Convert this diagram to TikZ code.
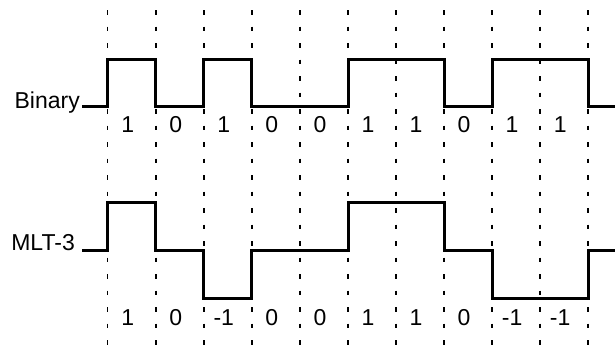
\documentclass[tikz,border=0pt]{standalone}
\usepackage{fontspec}
\setmainfont{Liberation Sans}
\usetikzlibrary{positioning, calc}

\begin{document}
\begin{tikzpicture}[
        x=1pt, y=-1pt,
        gridline/.style={draw=black, line width=1.5pt, dash pattern=on 4.5pt off 12pt, dash phase=-10pt},
        wave/.style={draw=black, line width=3pt, line join=miter},
        bit/.style={font=\fontsize{23}{23}\selectfont, inner sep=0pt, anchor=center},
        sig/.style={font=\fontsize{23}{23}\selectfont, inner sep=0pt, anchor=base east}
    ]
        \useasboundingbox (0,0) rectangle (615,348);

        % bit boundaries
        \foreach \i in {0,...,10}
            \draw[gridline] (107.7+48.05*\i, 0) -- (107.7+48.05*\i, 348);

        % Binary (NRZ)
        \node[sig] (binary) at (80,108) {Binary};
        \draw[wave] (82,106.7) -- (107.7,106.7) |- (155.8,59.3) |- (203.8,106.7)
            |- (251.9,59.3) |- (299.9,106.7) -- (348,106.7) |- (444.1,59.3)
            |- (492.1,106.7) |- (588.2,59.3) |- (615,106.7);
        \foreach \b [count=\i from 0] in {1,0,1,0,0,1,1,0,1,1}
            \node[bit] (bin\i) at (127.7+48.05*\i, 125) {\b};

        % MLT-3
        \node[sig] (mlt) at (75,250) {MLT-3};
        \draw[wave] (82,250.7) -- (107.7,250.7) |- (155.8,202.7) |- (203.8,250.7)
            |- (251.9,298.3) |- (348,250.7) |- (444.1,202.7) |- (492.1,250.7)
            |- (588.2,298.3) |- (615,250.7);
        \foreach \b [count=\i from 0] in {1,0,-1,0,0,1,1,0,-1,-1}
            \node[bit] (mlt\i) at (127.7+48.05*\i, 318) {\b};
    \end{tikzpicture}
\end{document}
